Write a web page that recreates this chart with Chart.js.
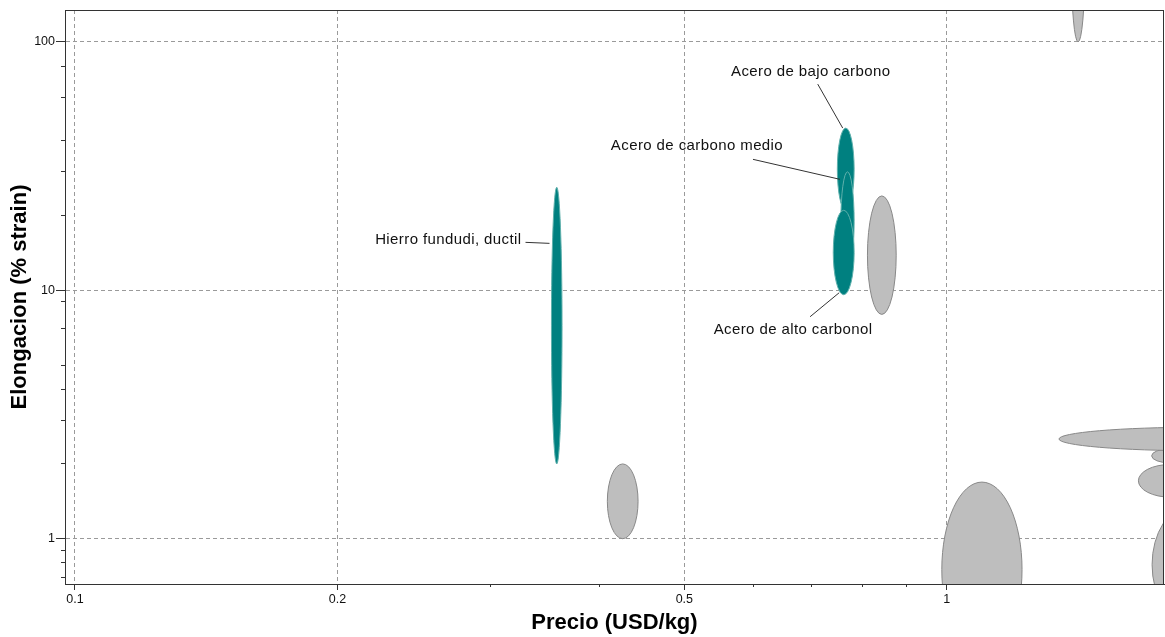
<!DOCTYPE html>
<html><head><meta charset="utf-8">
<script src="https://cdn.jsdelivr.net/npm/chart.js@4.4.1/dist/chart.umd.min.js"></script>
<style>html,body{margin:0;padding:0;background:#fff;} #wrap{width:1165px;height:637px;}</style>
</head><body><div id="wrap"><canvas id="c" width="1165" height="637"></canvas></div>
<script>
// ---- data ----
const materials = ['', '', '', '', '', '', '', '',
  'Hierro fundudi, ductil', 'Acero de bajo carbono', 'Acero de carbono medio', 'Acero de alto carbonol'];
const highlighted = [false, false, false, false, false, false, false, false, true, true, true, true];
const priceLow  = [0.811, 0.408, 1.39, 0.987, 1.718, 1.345, 1.659, 1.72, 0.352, 0.749, 0.756, 0.741];
const priceHigh = [0.875, 0.4425, 1.44, 1.22, 1.89, 2.8, 1.963, 2.10, 0.362, 0.783, 0.783, 0.783];
const elongLow  = [8.0, 1.0, 100, 0.334, 2.02, 2.26, 1.47, 0.459, 2.0, 21, 12, 9.6];
const elongHigh = [24, 2.0, 400, 1.69, 2.30, 2.81, 1.99, 1.346, 26, 45, 30, 21];

const xMajorTicks = [0.1, 0.2, 0.5, 1];
const xMajorLabels = ['0.1', '0.2', '0.5', '1'];
const xMinorTicks = [0.3, 0.4, 0.6, 0.7, 0.8, 0.9];
const yMajorTicks = [1, 10, 100];
const yMajorLabels = ['1', '10', '100'];
const yMinorTicks = [0.7, 0.8, 0.9, 2, 3, 4, 5, 7, 9, 20, 30, 40, 60, 80];
const xRange = [0.0974, 1.775];
const yRange = [0.657, 134.5];

// ---- label layout (pixel offsets from an anchor on the ellipse) ----
const labelLayout = {
  'Hierro fundudi, ductil': {theta: 217, p1: [-3, 1], p2: [-27, 0], text: [-31, -2], align: 'right'},
  'Acero de bajo carbono':  {theta: 270, p1: [-3, 0], p2: [-28, -44], text: [-35, -56.5], align: 'center'},
  'Acero de carbono medio': {theta: 238, p1: [-4, 0], p2: [-91, -20], text: [-147, -33], align: 'center'},
  'Acero de alto carbonol': {theta: 90,  p1: [-4.5, -2], p2: [-33.6, 22], text: [-50.6, 35], align: 'center'}
};

const FONT = "'Liberation Sans', Arial, sans-serif";
const TEAL = '#008080', TEAL_EDGE = '#5fb0ac', GRAY = '#bebebe', GRAY_EDGE = '#888888';

function geom(i, xs, ys) {
  const x1 = xs.getPixelForValue(priceLow[i]), x2 = xs.getPixelForValue(priceHigh[i]);
  const y1 = ys.getPixelForValue(elongLow[i]), y2 = ys.getPixelForValue(elongHigh[i]);
  return {cx: (x1 + x2) / 2, cy: (y1 + y2) / 2, rx: Math.abs(x2 - x1) / 2, ry: Math.abs(y1 - y2) / 2};
}

const ellipsePlugin = {
  id: 'ellipses',
  afterDatasetsDraw(chart) {
    const {ctx, chartArea: a} = chart;
    const xs = chart.scales.x, ys = chart.scales.y;
    ctx.save();
    ctx.beginPath();
    ctx.rect(a.left, a.top, a.right - a.left, a.bottom - a.top);
    ctx.clip();
    materials.forEach((m, i) => {
      const g = geom(i, xs, ys);
      ctx.beginPath();
      ctx.ellipse(g.cx, g.cy, g.rx, g.ry, 0, 0, Math.PI * 2);
      ctx.fillStyle = highlighted[i] ? TEAL : GRAY;
      ctx.fill();
      ctx.lineWidth = 1;
      ctx.strokeStyle = highlighted[i] ? TEAL_EDGE : GRAY_EDGE;
      ctx.stroke();
    });
    ctx.restore();

    // frame
    ctx.save();
    ctx.strokeStyle = '#333';
    ctx.lineWidth = 1;
    ctx.strokeRect(Math.round(a.left) + 0.5, Math.round(a.top) + 0.5,
      Math.round(a.right) - Math.round(a.left) - 1, Math.round(a.bottom) - Math.round(a.top));
    ctx.restore();

    // annotations
    ctx.save();
    ctx.font = '15px ' + FONT;
    ctx.letterSpacing = '0.4px';
    ctx.textBaseline = 'middle';
    ctx.fillStyle = '#111';
    ctx.strokeStyle = '#333';
    ctx.lineWidth = 1;
    materials.forEach((m, i) => {
      const L = labelLayout[m];
      if (!L) return;
      const g = geom(i, xs, ys);
      const t = L.theta * Math.PI / 180;
      const ax = g.cx + g.rx * Math.cos(t), ay = g.cy + g.ry * Math.sin(t);
      ctx.beginPath();
      ctx.moveTo(ax + L.p1[0], ay + L.p1[1]);
      ctx.lineTo(ax + L.p2[0], ay + L.p2[1]);
      ctx.stroke();
      ctx.textAlign = L.align;
      ctx.fillText(m, ax + L.text[0], ay + L.text[1]);
    });
    ctx.restore();
  }
};

const points = materials.map((m, i) => ({
  x: Math.sqrt(priceLow[i] * priceHigh[i]),
  y: Math.sqrt(elongLow[i] * elongHigh[i])
}));

const tickFont = {family: FONT, size: 12.5};
const titleFont = {family: FONT, size: 22, weight: 'bold'};

new Chart(document.getElementById('c'), {
  type: 'scatter',
  data: {datasets: [{data: points, pointRadius: 0, showLine: false}]},
  plugins: [ellipsePlugin],
  options: {
    responsive: false,
    animation: false,
    layout: {padding: {top: 10, right: 1, left: 0, bottom: 0}},
    plugins: {legend: {display: false}, tooltip: {enabled: false}},
    scales: {
      x: {
        type: 'logarithmic', position: 'bottom', weight: 1, bounds: 'data',
        min: xRange[0], max: xRange[1],
        afterBuildTicks: s => { s.ticks = xMajorTicks.map(v => ({value: v})); },
        afterFit: s => { s.height = 53; },
        ticks: {autoSkip: false, maxRotation: 0, font: tickFont, color: '#111', padding: 2,
          callback: (v, i) => xMajorLabels[i]},
        grid: {color: '#9a9a9a', lineWidth: 1, tickLength: 6, tickColor: '#333'},
        border: {display: true, color: '#333', width: 1, dash: [4, 3]},
        title: {display: true, text: 'Precio (USD/kg)', font: titleFont, color: '#000', padding: {top: 0, bottom: 1}}
      },
      xMinor: {
        axis: 'x', type: 'logarithmic', position: 'bottom', weight: 0, bounds: 'data',
        min: xRange[0], max: xRange[1],
        afterBuildTicks: s => { s.ticks = xMinorTicks.map(v => ({value: v})); },
        afterFit: s => { s.height = 0; },
        ticks: {display: false, autoSkip: false},
        grid: {drawOnChartArea: false, tickLength: 3, tickColor: '#333'},
        border: {display: false}
      },
      y: {
        type: 'logarithmic', position: 'left', weight: 1, bounds: 'data',
        min: yRange[0], max: yRange[1],
        afterBuildTicks: s => { s.ticks = yMajorTicks.map(v => ({value: v})); },
        afterFit: s => { s.width = 65; },
        ticks: {autoSkip: false, font: tickFont, color: '#111', padding: 1,
          callback: (v, i) => yMajorLabels[i]},
        grid: {color: '#9a9a9a', lineWidth: 1, tickLength: 9, tickColor: '#333'},
        border: {display: true, color: '#333', width: 1, dash: [4, 3]},
        title: {display: true, text: 'Elongacion (% strain)', font: titleFont, color: '#000', padding: {top: 7, bottom: 0}}
      },
      yMinor: {
        axis: 'y', type: 'logarithmic', position: 'left', weight: 0, bounds: 'data',
        min: yRange[0], max: yRange[1],
        afterBuildTicks: s => { s.ticks = yMinorTicks.map(v => ({value: v})); },
        afterFit: s => { s.width = 0; },
        ticks: {display: false, autoSkip: false},
        grid: {drawOnChartArea: false, tickLength: 4, tickColor: '#333'},
        border: {display: false}
      }
    }
  }
});
</script>
</body></html>
